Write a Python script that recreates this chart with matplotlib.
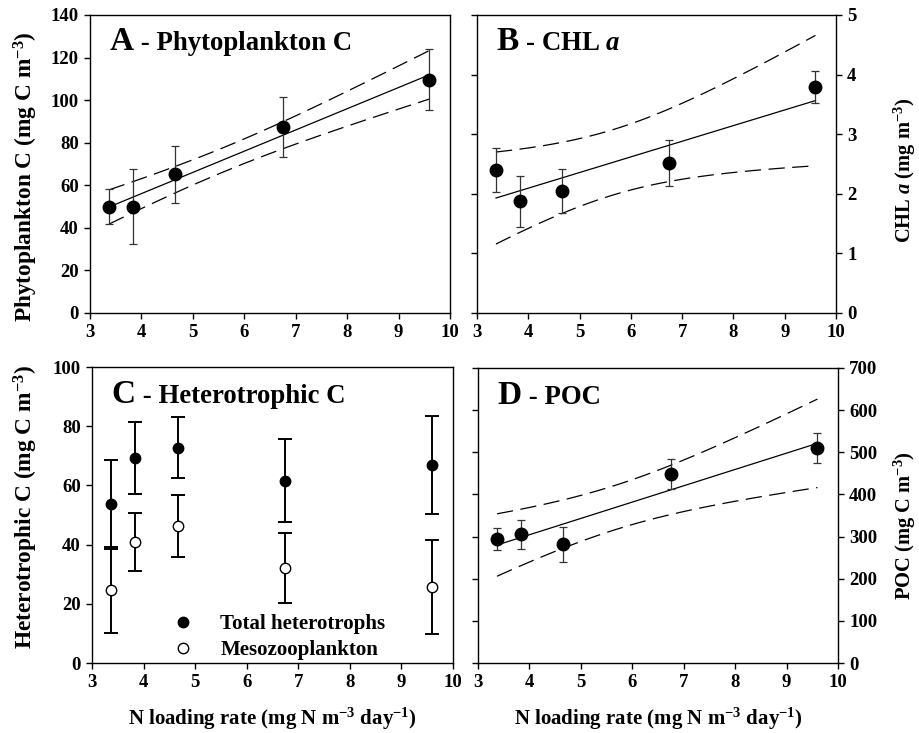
import matplotlib
matplotlib.use('Agg')
import matplotlib.pyplot as plt
import numpy as np

plt.rcParams['font.family'] = ['Liberation Serif', 'DejaVu Serif']
plt.rcParams['font.weight'] = 'bold'
plt.rcParams['mathtext.fontset'] = 'custom'
plt.rcParams['mathtext.rm'] = 'Liberation Serif:bold'
plt.rcParams['mathtext.bf'] = 'Liberation Serif:bold'
plt.rcParams['mathtext.it'] = 'Liberation Serif:italic:bold'
plt.rcParams['mathtext.default'] = 'rm'

# ============================================================
# 数据
# ============================================================
n_load = [3.37, 3.83, 4.66, 6.75, 9.6]

phyto_c = [50.0, 50.0, 65.2, 87.6, 109.5]
phyto_err = [8.4, 17.5, 13.4, 14.1, 14.3]

chl_a = [2.405, 1.876, 2.043, 2.517, 3.786]
chl_err = [0.37, 0.43, 0.37, 0.38, 0.27]

total_het = [53.6, 69.3, 72.8, 61.6, 66.9]
total_het_err = [15.0, 12.1, 10.3, 14.0, 16.4]
meso_c = [24.6, 40.9, 46.3, 32.0, 25.7]
meso_err = [14.6, 9.8, 10.5, 11.8, 15.9]

poc = [293.7, 305.6, 281.7, 448.4, 510.3]
poc_err = [25.5, 34.5, 42.0, 36.5, 35.5]

W, H = 920, 733
YLABEL_FS = 16.8
RLABEL_FS = 14.8
XLABEL_FS = 15
TICK_FS = 13.5
DASH = (0, (13, 6))
XLABEL = 'N loading rate (mg N m$^{-3}$ day$^{-1}$)'


def px_axes(fig, left, right, top, bottom):
    """用像素坐标创建子图"""
    return fig.add_axes([left / W, 1 - bottom / H, (right - left) / W, (bottom - top) / H])


def px_ylabel(fig, x, y, text, size):
    """竖排坐标轴标题 (像素坐标为中心)"""
    fig.text(x / W, 1 - y / H, text, rotation=90, ha='center', va='center',
             fontsize=size, fontweight='bold')


def fit_ci(x, y, xx):
    """线性回归及 95% 置信区间"""
    x = np.asarray(x)
    y = np.asarray(y)
    n = len(x)
    slope, icpt = np.polyfit(x, y, 1)
    resid = y - (slope * x + icpt)
    s = np.sqrt(np.sum(resid ** 2) / (n - 2))
    sxx = np.sum((x - x.mean()) ** 2)
    t = 3.182  # t(0.975, df=3)
    yy = slope * xx + icpt
    half = t * s * np.sqrt(1.0 / n + (xx - x.mean()) ** 2 / sxx)
    return yy, yy - half, yy + half


def style_axes(ax, ylim, yticks, right=False):
    ax.set_xlim(3, 10)
    ax.set_xticks(range(3, 11))
    ax.set_ylim(*ylim)
    ax.set_yticks(yticks)
    for sp in ax.spines.values():
        sp.set_linewidth(1.0)
    ax.tick_params(axis='both', direction='out', length=4, width=1, labelsize=TICK_FS, pad=4)
    if right:
        ax.yaxis.tick_right()
        ax.tick_params(axis='y', left=True, labelleft=False)
    for lab in ax.get_xticklabels() + ax.get_yticklabels():
        lab.set_fontweight('bold')


titles = []


def panel_title(ax, letter, text, baseline):
    t1 = ax.text(0.055, baseline, letter, transform=ax.transAxes, fontsize=24,
                 fontweight='bold', va='baseline', ha='left')
    titles.append((ax, t1, text, baseline))


def finish_titles(fig):
    renderer = fig.canvas.get_renderer()
    for ax, t1, text, baseline in titles:
        bb = t1.get_window_extent(renderer)
        x1 = ax.transAxes.inverted().transform((bb.x1, bb.y0))[0]
        ax.text(x1, baseline, text, transform=ax.transAxes, fontsize=19.3,
                fontweight='bold', va='baseline', ha='left')


def plot_fit_panel(ax, y, err):
    ax.errorbar(n_load, y, yerr=err, fmt='o', color='black', ms=9, ecolor='#333333',
                elinewidth=0.9, capsize=2.8, capthick=0.9, zorder=3)
    xx = np.linspace(min(n_load), max(n_load), 100)
    yy, lo, hi = fit_ci(n_load, y, xx)
    ax.plot(xx, yy, color='black', lw=0.9)
    ax.plot(xx, lo, color='black', lw=0.9, ls=DASH)
    ax.plot(xx, hi, color='black', lw=0.9, ls=DASH)


fig = plt.figure(figsize=(W / 100, H / 100), dpi=100)

# A - Phytoplankton C
axA = px_axes(fig, 90, 450, 15, 313)
plot_fit_panel(axA, phyto_c, phyto_err)
style_axes(axA, (0, 140), range(0, 141, 20))
px_ylabel(fig, 26, 177, 'Phytoplankton C (mg C m$^{-3}$)', YLABEL_FS)
panel_title(axA, 'A', ' - Phytoplankton C', 0.883)

# B - CHL a
axB = px_axes(fig, 477, 836, 15, 313)
plot_fit_panel(axB, chl_a, chl_err)
style_axes(axB, (0, 5), range(0, 6), right=True)
px_ylabel(fig, 905, 170, 'CHL $\\mathit{a}$ (mg m$^{-3}$)', RLABEL_FS)
panel_title(axB, 'B', ' - CHL $\\mathit{a}$', 0.883)

# C - Heterotrophic C
axC = px_axes(fig, 92, 453, 367, 663)
axC.errorbar(n_load, total_het, yerr=total_het_err, fmt='o', color='black', ms=7.5,
             ecolor='black', elinewidth=1.4, capsize=4.8, capthick=1.4, zorder=3,
             label='Total heterotrophs')
axC.errorbar(n_load, meso_c, yerr=meso_err, fmt='o', mfc='white', mec='black', ms=7.5,
             ecolor='black', elinewidth=1.4, capsize=4.8, capthick=1.4, zorder=3,
             label='Mesozooplankton')
style_axes(axC, (0, 100), range(0, 101, 20))
px_ylabel(fig, 26, 507, 'Heterotrophic C (mg C m$^{-3}$)', YLABEL_FS)
axC.set_xlabel(XLABEL, fontsize=XLABEL_FS, fontweight='bold')
axC.xaxis.set_label_coords(0.5, -0.145)
panel_title(axC, 'C', ' - Heterotrophic C', 0.878)
h, l = axC.get_legend_handles_labels()
h = [hh[0] for hh in h]
axC.legend(h, l, loc='center left', bbox_to_anchor=(0.172, 0.088), frameon=False,
           prop={'weight': 'bold', 'size': 15}, handletextpad=1.28, labelspacing=0.3,
           handlelength=1.0, borderpad=0.4)

# D - POC
axD = px_axes(fig, 478, 838, 368, 663)
plot_fit_panel(axD, poc, poc_err)
style_axes(axD, (0, 700), range(0, 701, 100), right=True)
px_ylabel(fig, 905, 526, 'POC (mg C m$^{-3}$)', RLABEL_FS)
axD.set_xlabel(XLABEL, fontsize=XLABEL_FS, fontweight='bold')
axD.xaxis.set_label_coords(0.5, -0.145)
panel_title(axD, 'D', ' - POC', 0.878)

fig.canvas.draw()
finish_titles(fig)

plt.savefig('out.png', dpi=100)
plt.close()
